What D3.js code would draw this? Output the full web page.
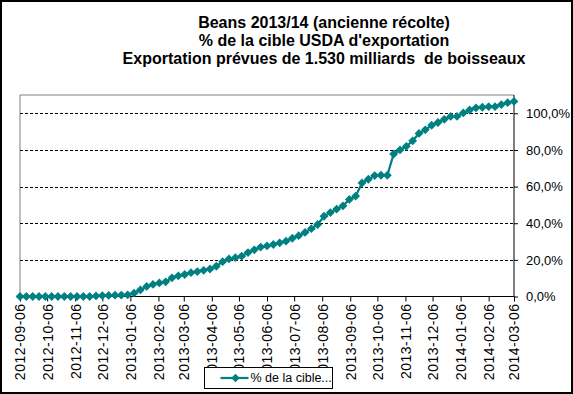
<!DOCTYPE html>
<html>
<head>
<meta charset="utf-8">
<script src="https://cdn.jsdelivr.net/npm/d3@7"></script>
<style>
  body { margin: 0; background: #fff; }
  svg { display: block; font-family: "Liberation Sans", Arial, sans-serif; }
</style>
</head>
<body>
<div id="chart"></div>
<script>
// weekly export sales report dates (Thursdays)
const weekDates = [
  "2012-09-06", "2012-09-13", "2012-09-20", "2012-09-27", "2012-10-04", "2012-10-11", "2012-10-18", "2012-10-25",
  "2012-11-01", "2012-11-08", "2012-11-15", "2012-11-22", "2012-11-29", "2012-12-06", "2012-12-13", "2012-12-20",
  "2012-12-27", "2013-01-03", "2013-01-10", "2013-01-17", "2013-01-24", "2013-01-31", "2013-02-07", "2013-02-14",
  "2013-02-21", "2013-02-28", "2013-03-07", "2013-03-14", "2013-03-21", "2013-03-28", "2013-04-04", "2013-04-11",
  "2013-04-18", "2013-04-25", "2013-05-02", "2013-05-09", "2013-05-16", "2013-05-23", "2013-05-30", "2013-06-06",
  "2013-06-13", "2013-06-20", "2013-06-27", "2013-07-04", "2013-07-11", "2013-07-18", "2013-07-25", "2013-08-01",
  "2013-08-08", "2013-08-15", "2013-08-22", "2013-08-29", "2013-09-05", "2013-09-12", "2013-09-19", "2013-09-26",
  "2013-10-03", "2013-10-10", "2013-10-17", "2013-10-24", "2013-10-31", "2013-11-07", "2013-11-14", "2013-11-21",
  "2013-11-28", "2013-12-05", "2013-12-12", "2013-12-19", "2013-12-26", "2014-01-02", "2014-01-09", "2014-01-16",
  "2014-01-23", "2014-01-30", "2014-02-06", "2014-02-13", "2014-02-20", "2014-02-27", "2014-03-06"
];

// % of USDA export target
const pctTarget = [
  0, 0, 0, 0, 0, 0, 0, 0,
  0, 0, 0, 0, 0.3, 0.5, 0.6, 0.7,
  0.8, 0.9, 1.8, 3.6, 5.5, 6.6, 7.4, 8.0,
  10.2, 11.3, 12.0, 13.0, 13.6, 14.3, 15.0, 16.5,
  19.0, 20.5, 21.2, 22.0, 24.0, 25.5, 27.0, 27.6,
  28.4, 29.3, 30.2, 31.8, 33.2, 35.0, 37.0, 39.3,
  43.8, 45.8, 47.7, 49.5, 53.0, 54.8, 62.0, 64.0,
  66.0, 66.2, 66.2, 77.8, 80.0, 82.0, 85.0, 89.0,
  91.0, 93.5, 95.0, 96.7, 98.3, 98.3, 100.2, 101.8,
  103.0, 103.3, 103.6, 103.6, 104.8, 105.8, 106.5
];

const xTickLabels = [
  "2012-09-06", "2012-10-06", "2012-11-06", "2012-12-06", "2013-01-06", "2013-02-06", "2013-03-06",
  "2013-04-06", "2013-05-06", "2013-06-06", "2013-07-06", "2013-08-06", "2013-09-06", "2013-10-06",
  "2013-11-06", "2013-12-06", "2014-01-06", "2014-02-06", "2014-03-06"
];
const yTicks = [0, 20, 40, 60, 80, 100];
const yMax = 110;

const titleLines = [
  "Beans 2013/14 (ancienne récolte)",
  "% de la cible USDA d'exportation",
  "Exportation prévues de 1.530 milliards  de boisseaux"
];
const seriesName = "% de la cible...";

const width = 573, height = 394;
const plot = { left: 20, right: 514, top: 95, bottom: 296.5 };
const teal = "#008080";

const parse = d3.utcParse("%Y-%m-%d");
const data = weekDates.map((d, i) => ({ date: parse(d), value: pctTarget[i] }));

const svg = d3.select("#chart").append("svg")
  .attr("width", width)
  .attr("height", height);

svg.append("rect")
  .attr("x", 1).attr("y", 1)
  .attr("width", width - 2).attr("height", height - 2)
  .attr("fill", "#fff")
  .attr("stroke", "#000")
  .attr("stroke-width", 2);

// title
svg.append("g").selectAll("text")
  .data(titleLines)
  .join("text")
  .attr("x", 324)
  .attr("y", (d, i) => 28 + i * 18)
  .attr("text-anchor", "middle")
  .style("font-size", "16px")
  .style("font-weight", "bold")
  .style("white-space", "pre")
  .text(d => d);

const x = d3.scaleUtc()
  .domain([parse(xTickLabels[0]), parse(xTickLabels[xTickLabels.length - 1])])
  .range([plot.left, plot.right]);

const y = d3.scaleLinear()
  .domain([0, yMax])
  .range([plot.bottom, plot.top]);

// plot frame (top + left in grey)
svg.append("path")
  .attr("d", `M${plot.left},${plot.bottom}V${plot.top}H${plot.right}`)
  .attr("fill", "none")
  .attr("stroke", "#808080")
  .attr("stroke-width", 1);

// dashed gridlines
svg.append("g").selectAll("line")
  .data(yTicks.filter(d => d > 0))
  .join("line")
  .attr("x1", plot.left).attr("x2", plot.right)
  .attr("y1", d => Math.round(y(d)) + 0.5).attr("y2", d => Math.round(y(d)) + 0.5)
  .attr("stroke", "#000")
  .attr("stroke-width", 1)
  .attr("stroke-dasharray", "3,2");

// y axis on the right
const yAxis = svg.append("g")
  .attr("transform", `translate(${plot.right},0)`)
  .call(d3.axisRight(y)
    .tickValues(yTicks)
    .tickSize(4)
    .tickPadding(8)
    .tickFormat(d => d.toFixed(1).replace(".", ",") + "%"));
yAxis.select(".domain").attr("d", `M0,${plot.bottom}V${plot.top}`);
yAxis.selectAll("text").style("font-size", "13px").attr("fill", "#000");

// x axis
const xAxis = svg.append("g")
  .attr("transform", `translate(0,${plot.bottom})`)
  .call(d3.axisBottom(x)
    .tickValues(xTickLabels.map(parse))
    .tickSize(5)
    .tickFormat(d3.utcFormat("%Y-%m-%d")));
xAxis.select(".domain").attr("d", `M${plot.left},0H${plot.right}`);
xAxis.selectAll("text")
  .style("font-size", "14px")
  .style("letter-spacing", "0.5px")
  .attr("fill", "#000")
  .attr("transform", "rotate(-90)")
  .attr("text-anchor", "end")
  .attr("x", -7)
  .attr("y", 0)
  .attr("dy", "0.35em");

// series line + diamond markers
const line = d3.line()
  .x(d => x(d.date))
  .y(d => y(d.value));

svg.append("path")
  .datum(data)
  .attr("fill", "none")
  .attr("stroke", teal)
  .attr("stroke-width", 2.25)
  .attr("d", line);

const diamond = r => `M0,${-r}L${r},0L0,${r}L${-r},0Z`;

svg.append("g").selectAll("path")
  .data(data)
  .join("path")
  .attr("transform", d => `translate(${x(d.date)},${y(d.value)})`)
  .attr("d", diamond(4.4))
  .attr("fill", teal);

// legend
const legend = svg.append("g").attr("transform", "translate(204.5,367.5)");
legend.append("rect")
  .attr("width", 128).attr("height", 21)
  .attr("fill", "#fff")
  .attr("stroke", "#000")
  .attr("stroke-width", 1);
legend.append("line")
  .attr("x1", 16).attr("x2", 44)
  .attr("y1", 10.5).attr("y2", 10.5)
  .attr("stroke", teal)
  .attr("stroke-width", 2.25);
legend.append("path")
  .attr("transform", "translate(31,10.5)")
  .attr("d", diamond(4.2))
  .attr("fill", teal);
legend.append("text")
  .attr("x", 46).attr("y", 10.5)
  .attr("dy", "0.35em")
  .style("font-size", "12.5px")
  .text(seriesName);
</script>
</body>
</html>
